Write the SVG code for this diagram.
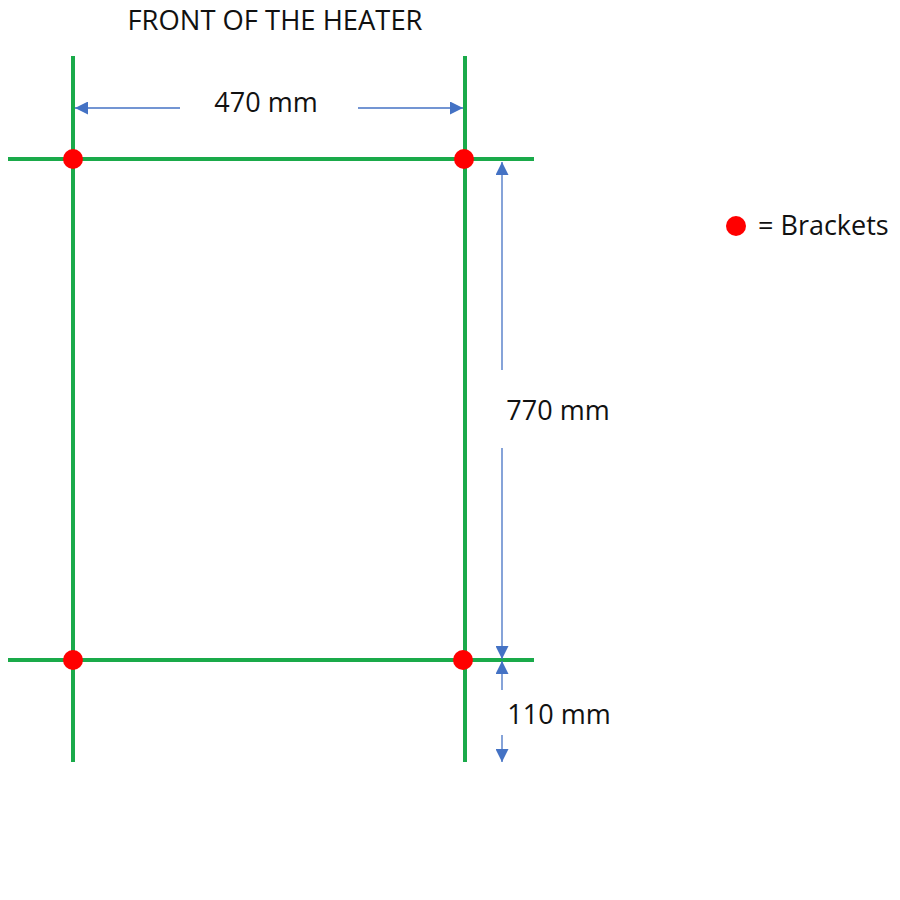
<svg xmlns="http://www.w3.org/2000/svg" width="900" height="900" viewBox="0 0 900 900">
<style>
.g{stroke:#1aaa4a;stroke-width:4;fill:none}
.b{stroke:#4472c4;stroke-width:1.3;fill:none}
.dot{fill:#ff0000}
text{font-family:"Open Sans","Noto Sans",sans-serif;fill:#111;font-size:27px}
</style>
<defs>
<marker id="ah" viewBox="0 0 10 10" refX="10" refY="5" markerWidth="13" markerHeight="13" markerUnits="userSpaceOnUse" orient="auto">
<path d="M0,0 L10,5 L0,10 z" fill="#4472c4"/>
</marker>
</defs>
<rect width="900" height="900" fill="#fff"/>
<g id="frame">
<line class="g" x1="73" y1="56" x2="73" y2="762"/>
<line class="g" x1="465" y1="56" x2="465" y2="762"/>
<line class="g" x1="8" y1="159" x2="534" y2="159"/>
<line class="g" x1="8" y1="660" x2="534" y2="660"/>
</g>
<g id="brackets">
<circle class="dot" cx="73" cy="159" r="10"/>
<circle class="dot" cx="464" cy="159" r="10"/>
<circle class="dot" cx="73" cy="660" r="10"/>
<circle class="dot" cx="463" cy="660" r="10"/>
</g>
<g id="connectors">
<line class="b" x1="180" y1="108" x2="75" y2="108" marker-end="url(#ah)"/>
<line class="b" x1="358" y1="108" x2="463" y2="108" marker-end="url(#ah)"/>
<line class="b" x1="502" y1="370" x2="502" y2="162" marker-end="url(#ah)"/>
<line class="b" x1="502" y1="448" x2="502" y2="659" marker-end="url(#ah)"/>
<line class="b" x1="502" y1="690" x2="502" y2="661" marker-end="url(#ah)"/>
<line class="b" x1="502" y1="735" x2="502" y2="762" marker-end="url(#ah)"/>
</g>
<g id="title"><text x="275" y="30" text-anchor="middle" textLength="295" lengthAdjust="spacingAndGlyphs">FRONT OF THE HEATER</text></g>
<g id="label-470"><text x="266" y="112" text-anchor="middle">470 mm</text></g>
<g id="label-770"><text x="558" y="420" text-anchor="middle">770 mm</text></g>
<g id="label-110"><text x="559" y="724" text-anchor="middle">110 mm</text></g>
<g id="legend">
<circle class="dot" cx="736" cy="226" r="10"/>
<text x="758" y="235">= Brackets</text>
</g>
</svg>
